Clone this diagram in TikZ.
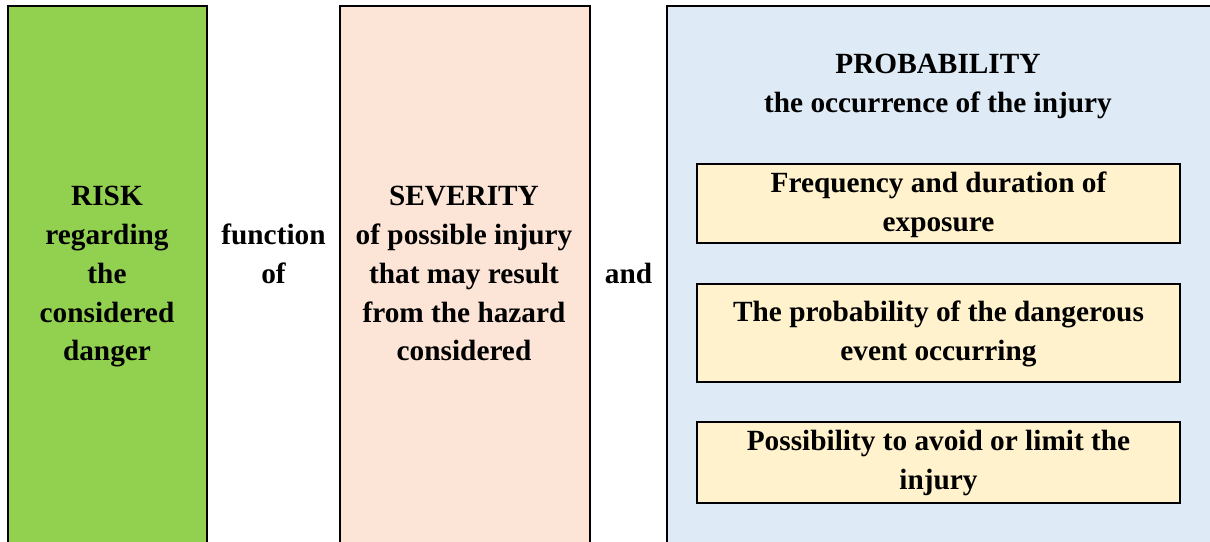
\documentclass[tikz,border=0pt]{standalone}
\usepackage{fontspec}
\setmainfont{Liberation Serif}
\definecolor{riskgreen}{HTML}{92D050}
\definecolor{sevpeach}{HTML}{FCE4D6}
\definecolor{probblue}{HTML}{DEEAF6}
\definecolor{factyellow}{HTML}{FFF2CC}
\begin{document}
\begin{tikzpicture}[x=1pt,y=-1pt,
  txt/.style={anchor=base,inner sep=0pt,font=\fontsize{29.3}{39}\selectfont\bfseries},
  border/.style={line width=2.2pt,draw=black},
  factbox/.style={line width=2pt,draw=black,fill=factyellow}]
\useasboundingbox (0,0) rectangle (1210,541);
% columns
\fill[riskgreen] (8,6) rectangle (207,548);
\draw[border] (8,548) -- (8,6) -- (207,6) -- (207,548);
\fill[sevpeach] (340,6) rectangle (590,548);
\draw[border] (340,548) -- (340,6) -- (590,6) -- (590,548);
\fill[probblue] (667,6) rectangle (1215,548);
\draw[border] (667,548) -- (667,6) -- (1215,6);
% factor boxes
\draw[factbox] (697,164) rectangle (1180,243);
\draw[factbox] (697,284) rectangle (1180,382);
\draw[factbox] (697,422) rectangle (1180,503);
% risk
\node[txt] (r1) at (107,205) {RISK};
\node[txt] (r2) at (107,244) {regarding};
\node[txt] (r3) at (107,283) {the};
\node[txt] (r4) at (107,322) {considered};
\node[txt] (r5) at (107,360) {danger};
% function of
\node[txt] (f1) at (273.5,244) {function};
\node[txt] (f2) at (273.5,283) {of};
% severity
\node[txt] (s1) at (464,205) {SEVERITY};
\node[txt] (s2) at (464,244) {of possible injury};
\node[txt] (s3) at (464,283) {that may result};
\node[txt] (s4) at (464,322) {from the hazard};
\node[txt] (s5) at (464,360) {considered};
% and
\node[txt] (a1) at (628.5,283) {and};
% probability
\node[txt] (p1) at (938,73) {PROBABILITY};
\node[txt] (p2) at (938,112) {the occurrence of the injury};
% factors
\node[txt] (q1) at (938.5,192) {Frequency and duration of};
\node[txt] (q2) at (938.5,231) {exposure};
\node[txt] (q3) at (938.5,321) {The probability of the dangerous};
\node[txt] (q4) at (938.5,360) {event occurring};
\node[txt] (q5) at (938.5,450) {Possibility to avoid or limit the};
\node[txt] (q6) at (938.5,489) {injury};
\end{tikzpicture}
\end{document}
